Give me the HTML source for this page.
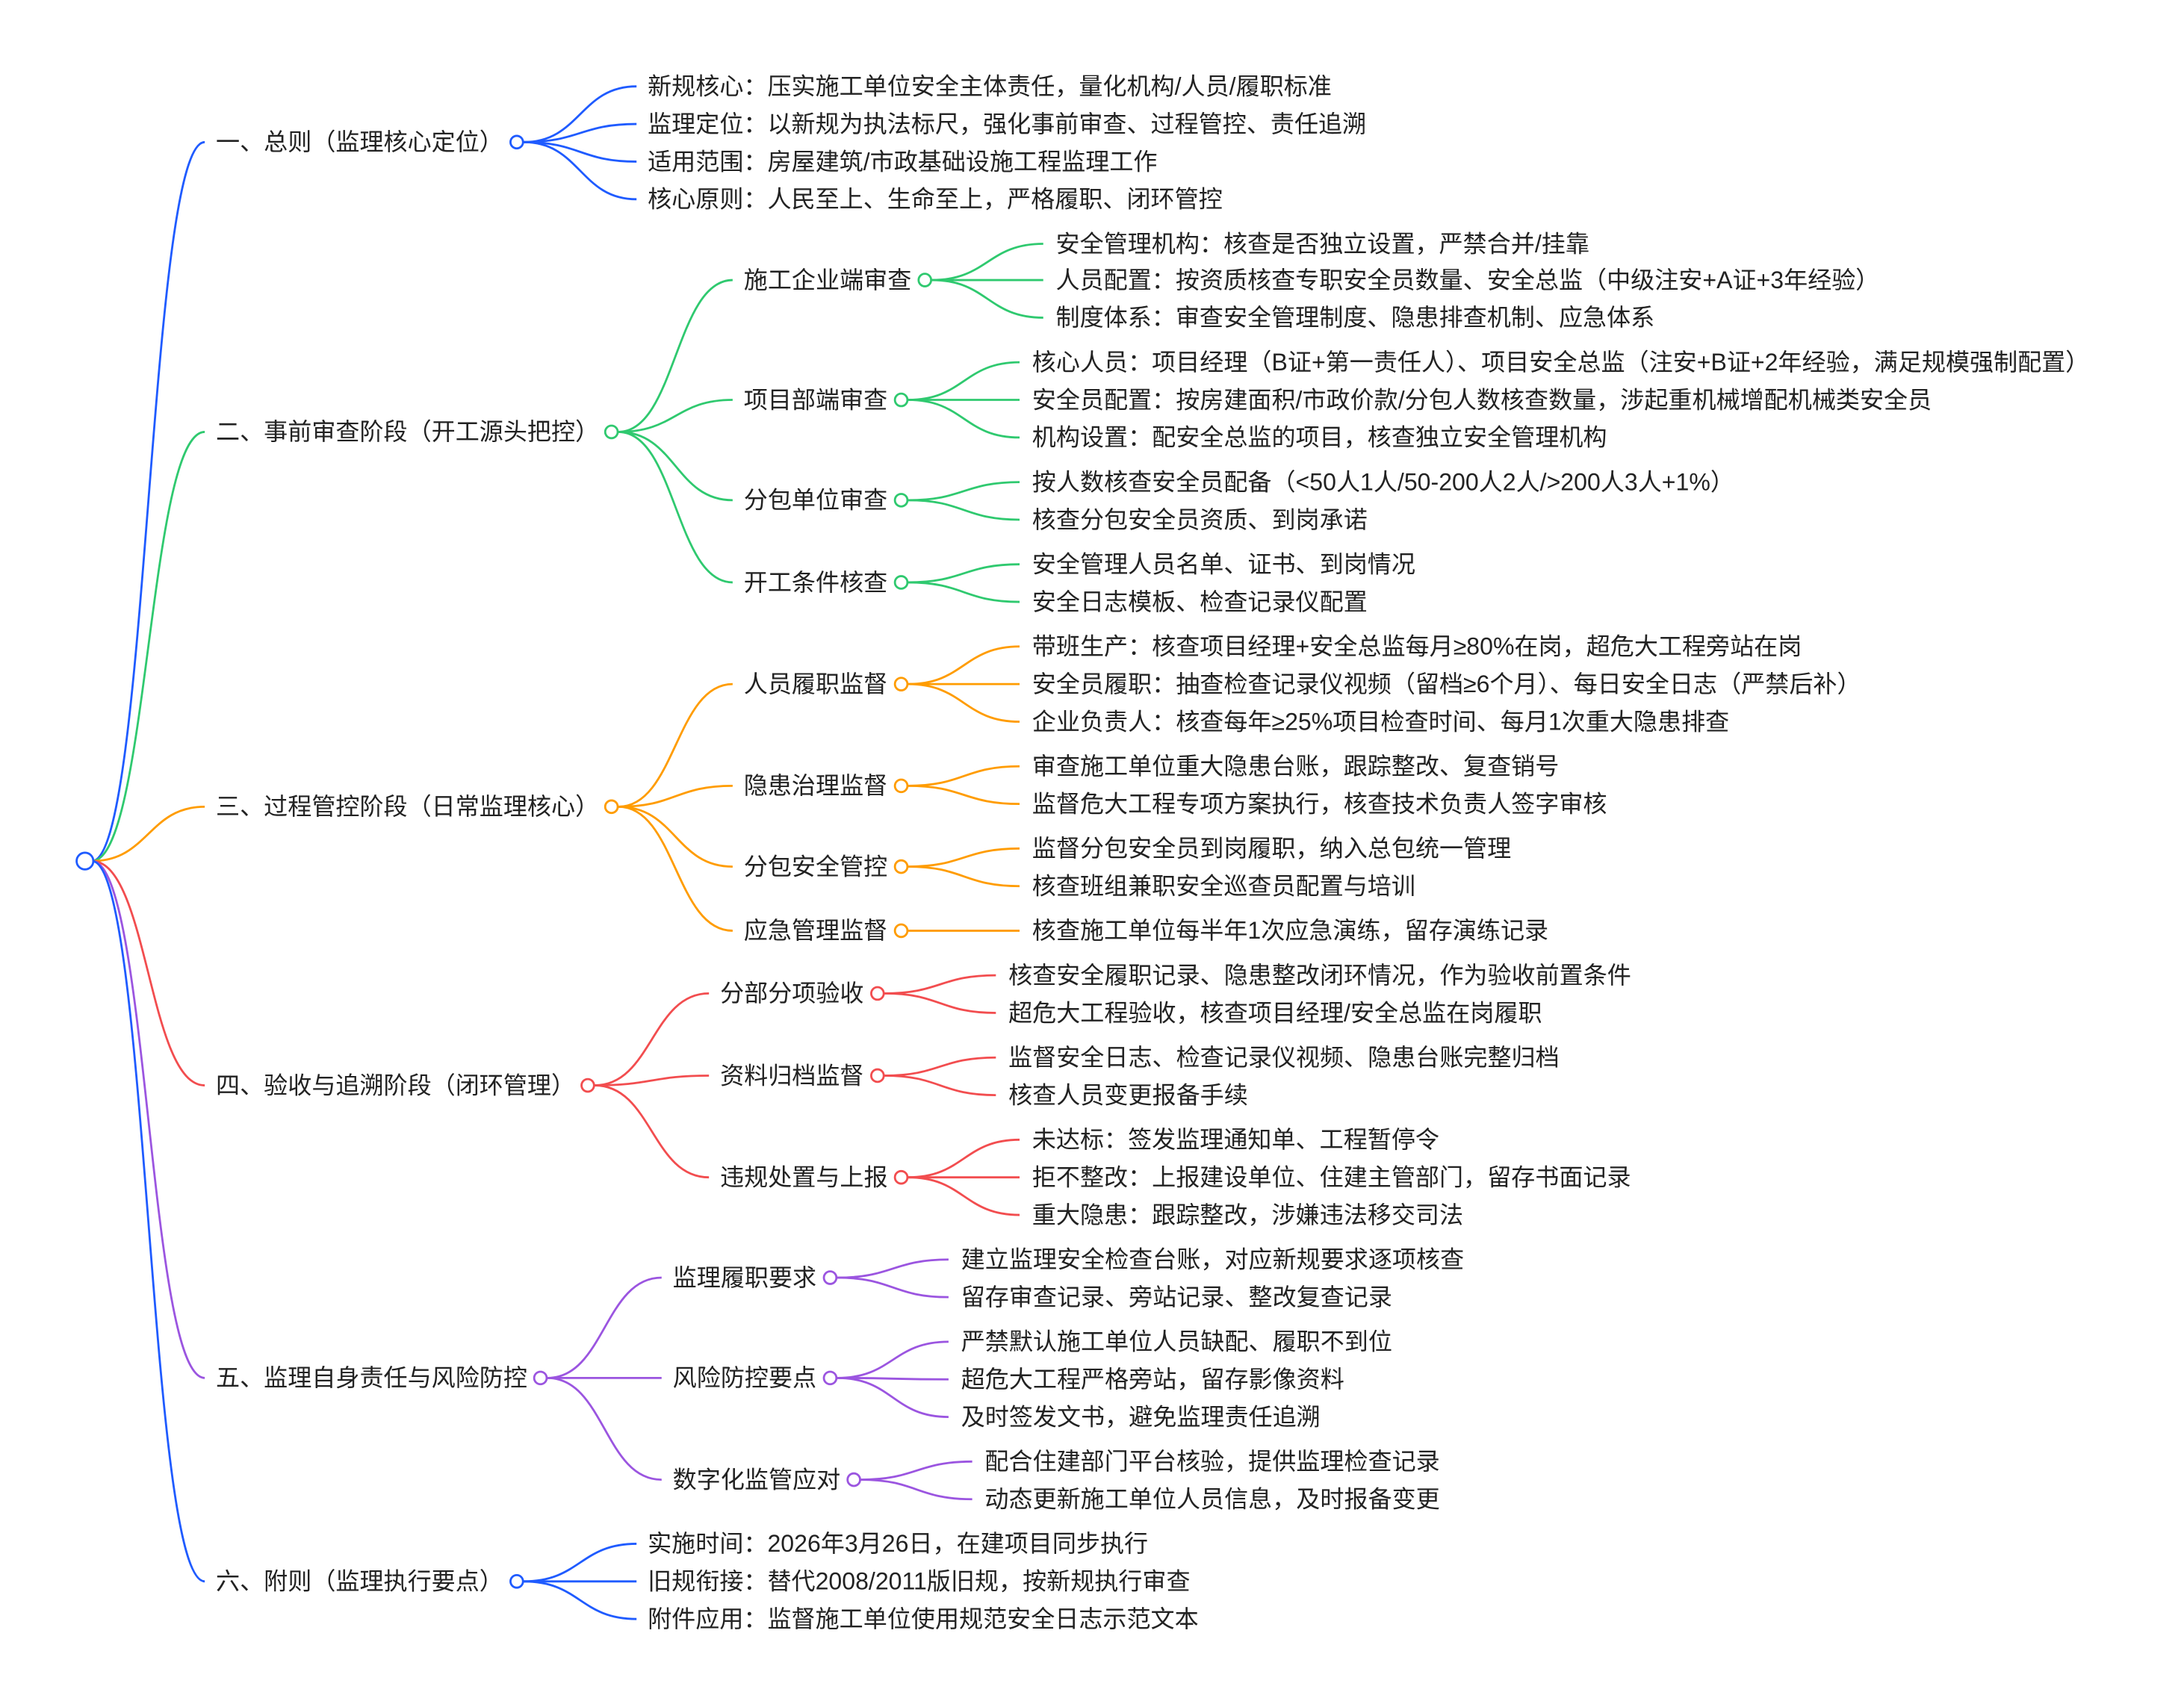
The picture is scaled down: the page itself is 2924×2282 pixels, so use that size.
<!DOCTYPE html>
<html><head><meta charset="utf-8"><style>
html,body{margin:0;padding:0;background:#fff;}
svg{display:block;}
text{font-family:"Liberation Sans","Noto Sans CJK SC",sans-serif;font-size:17.2px;fill:#222;}
</style></head><body>
<svg id="s" width="2924" height="2282" viewBox="0 0 1568 1223" preserveAspectRatio="none" xmlns="http://www.w3.org/2000/svg"></svg>
<script>
var s=document.getElementById('s'),NS='http://www.w3.org/2000/svg';
function el(t,a,txt){var e=document.createElementNS(NS,t);for(var k in a)e.setAttribute(k,a[k]);if(txt)e.textContent=txt;s.appendChild(e);return e;}
function cv(x1,y1,x2,y2,c){var m=(x1+x2)/2;el('path',{d:'M'+x1+' '+y1+'C'+m+' '+y1+' '+m+' '+y2+' '+x2+' '+y2,fill:'none',stroke:c,'stroke-width':1.5});}
function tx(x,y,t){el('text',{x:x,y:y+5.8},t);}
function circ(x,y,c,r){el('circle',{cx:x,cy:y,r:r||4.5,fill:'#fff',stroke:c,'stroke-width':1.5});}
var B='#1f5bff',G='#2fc96f',O='#ff9c00',R='#f24d4f',P='#9b55e0';
var data=[
[B,'一、总则（监理核心定位）',102,371,[[465,null,0,0,0,[[62,'新规核心：压实施工单位安全主体责任，量化机构/人员/履职标准'],[89,'监理定位：以新规为执法标尺，强化事前审查、过程管控、责任追溯'],[116,'适用范围：房屋建筑/市政基础设施工程监理工作'],[143,'核心原则：人民至上、生命至上，严格履职、闭环管控']]]]],
[G,'二、事前审查阶段（开工源头把控）',310,439,[
 [534,'施工企业端审查',201,664,758,[[175,'安全管理机构：核查是否独立设置，严禁合并/挂靠'],[201,'人员配置：按资质核查专职安全员数量、安全总监（中级注安+A证+3年经验）'],[228,'制度体系：审查安全管理制度、隐患排查机制、应急体系']]],
 [534,'项目部端审查',287,647,741,[[260,'核心人员：项目经理（B证+第一责任人）、项目安全总监（注安+B证+2年经验，满足规模强制配置）'],[287,'安全员配置：按房建面积/市政价款/分包人数核查数量，涉起重机械增配机械类安全员'],[314,'机构设置：配安全总监的项目，核查独立安全管理机构']]],
 [534,'分包单位审查',359,647,741,[[346,'按人数核查安全员配备（<50人1人/50-200人2人/>200人3人+1%）'],[373,'核查分包安全员资质、到岗承诺']]],
 [534,'开工条件核查',418,647,741,[[405,'安全管理人员名单、证书、到岗情况'],[432,'安全日志模板、检查记录仪配置']]]]],
[O,'三、过程管控阶段（日常监理核心）',579,439,[
 [534,'人员履职监督',491,647,741,[[464,'带班生产：核查项目经理+安全总监每月≥80%在岗，超危大工程旁站在岗'],[491,'安全员履职：抽查检查记录仪视频（留档≥6个月）、每日安全日志（严禁后补）'],[518,'企业负责人：核查每年≥25%项目检查时间、每月1次重大隐患排查']]],
 [534,'隐患治理监督',564,647,741,[[550,'审查施工单位重大隐患台账，跟踪整改、复查销号'],[577,'监督危大工程专项方案执行，核查技术负责人签字审核']]],
 [534,'分包安全管控',622,647,741,[[609,'监督分包安全员到岗履职，纳入总包统一管理'],[636,'核查班组兼职安全巡查员配置与培训']]],
 [534,'应急管理监督',668,647,741,[[668,'核查施工单位每半年1次应急演练，留存演练记录']]]]],
[R,'四、验收与追溯阶段（闭环管理）',779,422,[
 [517,'分部分项验收',713,630,724,[[700,'核查安全履职记录、隐患整改闭环情况，作为验收前置条件'],[727,'超危大工程验收，核查项目经理/安全总监在岗履职']]],
 [517,'资料归档监督',772,630,724,[[759,'监督安全日志、检查记录仪视频、隐患台账完整归档'],[786,'核查人员变更报备手续']]],
 [517,'违规处置与上报',845,647,741,[[818,'未达标：签发监理通知单、工程暂停令'],[845,'拒不整改：上报建设单位、住建主管部门，留存书面记录'],[872,'重大隐患：跟踪整改，涉嫌违法移交司法']]]]],
[P,'五、监理自身责任与风险防控',989,388,[
 [483,'监理履职要求',917,596,690,[[904,'建立监理安全检查台账，对应新规要求逐项核查'],[931,'留存审查记录、旁站记录、整改复查记录']]],
 [483,'风险防控要点',989,596,690,[[963,'严禁默认施工单位人员缺配、履职不到位'],[990,'超危大工程严格旁站，留存影像资料'],[1017,'及时签发文书，避免监理责任追溯']]],
 [483,'数字化监管应对',1062,613,707,[[1049,'配合住建部门平台核验，提供监理检查记录'],[1076,'动态更新施工单位人员信息，及时报备变更']]]]],
[B,'六、附则（监理执行要点）',1135,371,[[465,null,0,0,0,[[1108,'实施时间：2026年3月26日，在建项目同步执行'],[1135,'旧规衔接：替代2008/2011版旧规，按新规执行审查'],[1162,'附件应用：监督施工单位使用规范安全日志示范文本']]]]]
];
var rx=61,ry=618;
data.forEach(function(d){
 var c=d[0],y=d[2],cx=d[3];
 cv(rx+5,ry,147,y,c);tx(155,y,d[1]);
 d[4].forEach(function(k){
  if(k[1]===null){k[5].forEach(function(l){cv(cx+5,y,k[0]-8,l[0],c);tx(k[0],l[0],l[1]);});}
  else{
   cv(cx+5,y,k[0]-8,k[2],c);tx(k[0],k[2],k[1]);
   k[5].forEach(function(l){cv(k[3]+5,k[2],k[4]-9,l[0],c);tx(k[4],l[0],l[1]);});
   circ(k[3],k[2],c);
  }
 });
 circ(cx,y,c);
});
circ(rx,ry,B,6);
</script>
</body></html>
